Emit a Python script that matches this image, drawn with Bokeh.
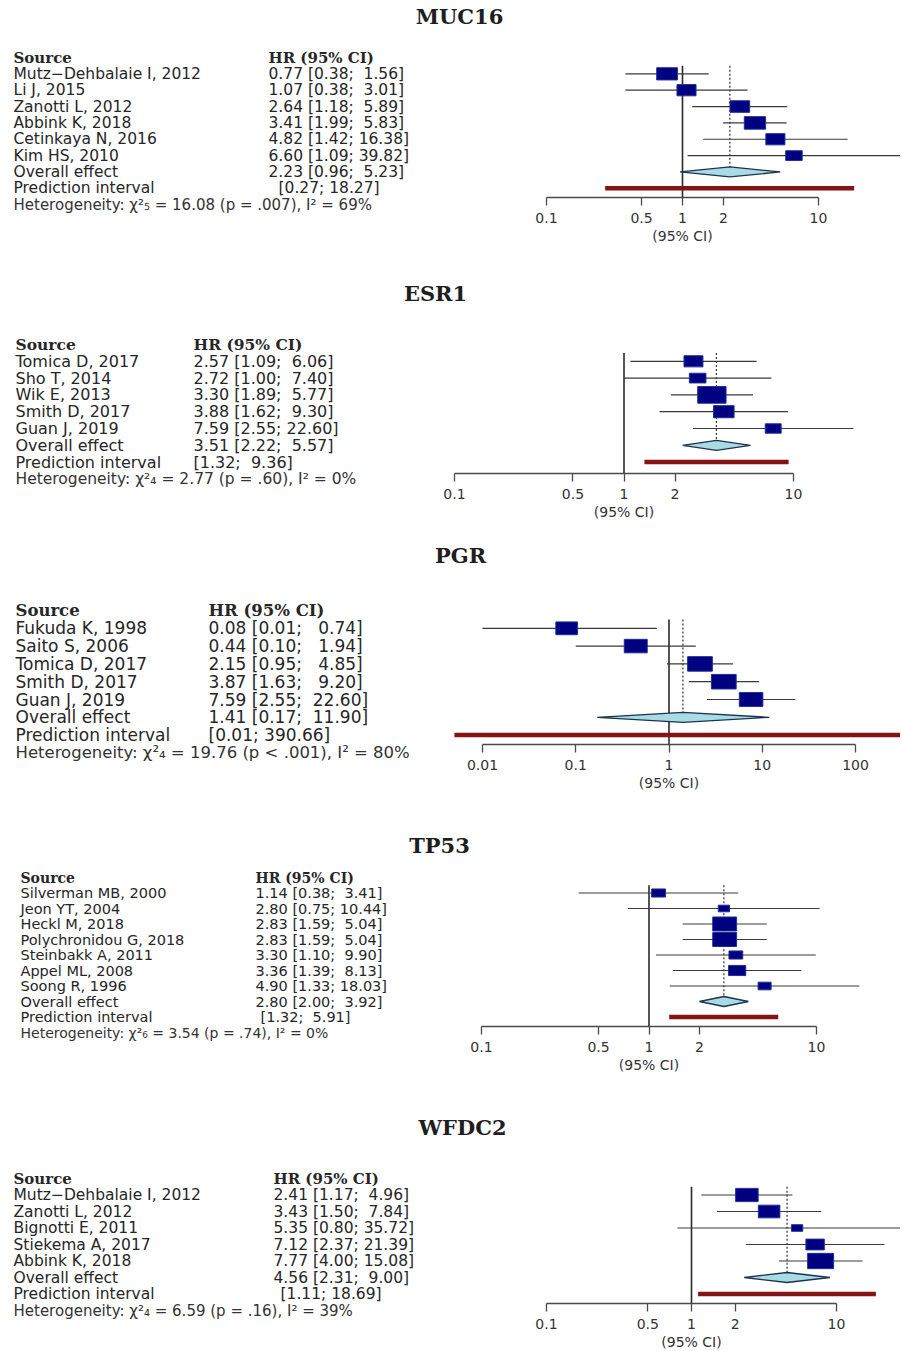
import math
from bokeh.plotting import figure
from bokeh.layouts import column
from bokeh.models import Range1d, LinearScale, FixedTicker, CustomJSTickFormatter, LogAxis
from bokeh.core.properties import value
from bokeh.embed import file_html
from bokeh.resources import INLINE

# ---------------- data ----------------
genes = ["MUC16", "ESR1", "PGR", "TP53", "WFDC2"]

muc16_study = ["Mutz\u2212Dehbalaie I, 2012", "Li J, 2015", "Zanotti L, 2012",
               "Abbink K, 2018", "Cetinkaya N, 2016", "Kim HS, 2010"]
muc16_hr = [0.77, 1.07, 2.64, 3.41, 4.82, 6.60]
muc16_lo = [0.38, 0.38, 1.18, 1.99, 1.42, 1.09]
muc16_hi = [1.56, 3.01, 5.89, 5.83, 16.38, 39.82]
muc16_weight = [19, 16, 17, 20, 16, 12]

esr1_study = ["Tomica D, 2017", "Sho T, 2014", "Wik E, 2013", "Smith D, 2017", "Guan J, 2019"]
esr1_hr = [2.57, 2.72, 3.30, 3.88, 7.59]
esr1_lo = [1.09, 1.00, 1.89, 1.62, 2.55]
esr1_hi = [6.06, 7.40, 5.77, 9.30, 22.60]
esr1_weight = [17, 13, 38, 20, 12]

pgr_study = ["Fukuda K, 1998", "Saito S, 2006", "Tomica D, 2017", "Smith D, 2017", "Guan J, 2019"]
pgr_hr = [0.08, 0.44, 2.15, 3.87, 7.59]
pgr_lo = [0.01, 0.10, 0.95, 1.63, 2.55]
pgr_hi = [0.74, 1.94, 4.85, 9.20, 22.60]
pgr_weight = [17, 19, 22, 22, 20]

tp53_study = ["Silverman MB, 2000", "Jeon YT, 2004", "Heckl M, 2018", "Polychronidou G, 2018",
              "Steinbakk A, 2011", "Appel ML, 2008", "Soong R, 1996"]
tp53_hr = [1.14, 2.80, 2.83, 2.83, 3.30, 3.36, 4.90]
tp53_lo = [0.38, 0.75, 1.59, 1.59, 1.10, 1.39, 1.33]
tp53_hi = [3.41, 10.44, 5.04, 5.04, 9.90, 8.13, 18.03]
tp53_weight = [9, 6, 27, 27, 9, 14, 8]

wfdc2_study = ["Mutz\u2212Dehbalaie I, 2012", "Zanotti L, 2012", "Bignotti E, 2011",
               "Stiekema A, 2017", "Abbink K, 2018"]
wfdc2_hr = [2.41, 3.43, 5.35, 7.12, 7.77]
wfdc2_lo = [1.17, 1.50, 0.80, 2.37, 4.00]
wfdc2_hi = [4.96, 7.84, 35.72, 21.39, 15.08]
wfdc2_weight = [24, 22, 6, 16, 32]

# overall effect: HR, lower, upper
overall_hr = [2.23, 3.51, 1.41, 2.80, 4.56]
overall_lo = [0.96, 2.22, 0.17, 2.00, 2.31]
overall_hi = [5.23, 5.57, 11.90, 3.92, 9.00]
# prediction interval
pred_lo = [0.27, 1.32, 0.005, 1.32, 1.11]
pred_hi = [18.27, 9.36, 390.66, 5.91, 18.69]
# heterogeneity
het_q = [16.08, 2.77, 19.76, 3.54, 6.59]
het_df = [5, 4, 4, 6, 4]
het_p_op = ["=", "=", "<", "=", "="]
het_p = [".007", ".60", ".001", ".74", ".16"]
het_i2 = [69, 0, 80, 0, 39]

axis_ticks = [[0.1, 0.5, 1, 2, 10], [0.1, 0.5, 1, 2, 10], [0.01, 0.1, 1, 10, 100],
              [0.1, 0.5, 1, 2, 10], [0.1, 0.5, 1, 2, 10]]

studies = [muc16_study, esr1_study, pgr_study, tp53_study, wfdc2_study]
hrs = [muc16_hr, esr1_hr, pgr_hr, tp53_hr, wfdc2_hr]
los = [muc16_lo, esr1_lo, pgr_lo, tp53_lo, wfdc2_lo]
his = [muc16_hi, esr1_hi, pgr_hi, tp53_hi, wfdc2_hi]
weights = [muc16_weight, esr1_weight, pgr_weight, tp53_weight, wfdc2_weight]

# ---------------- layout (page pixel positions) ----------------
W = 900
layouts = [
    dict(top=0, h=258, title_x=459, title_y=16, head_y=57, dy=16.35, axis_y=197,
         A=682, B=136, name_x=13, hr_x=268, pi_x=278, fs=15.5, box=2.8),
    dict(top=258, h=270, title_x=435, title_y=293, head_y=344, dy=16.8, axis_y=473,
         A=623.5, B=169.5, name_x=15, hr_x=193, pi_x=193, fs=16, box=2.7),
    dict(top=528, h=287, title_x=460, title_y=555, head_y=610, dy=17.8, axis_y=744,
         A=668.5, B=93.25, name_x=15, hr_x=208, pi_x=208, fs=17, box=3.1),
    dict(top=815, h=270, title_x=439, title_y=845, head_y=877, dy=15.5, axis_y=1026,
         A=648.5, B=167.5, name_x=20, hr_x=255, pi_x=260, fs=14.5, box=2.7),
    dict(top=1085, h=264, title_x=462, title_y=1127, head_y=1178, dy=16.5, axis_y=1303,
         A=691, B=145, name_x=13, hr_x=273, pi_x=280, fs=15.5, box=2.7),
]

TEXT_COL = "#262626"
SUB = str.maketrans("0123456789", "\u2080\u2081\u2082\u2083\u2084\u2085\u2086\u2087\u2088\u2089")
NB = "\u00a0"


def fmt_hi(v, w):
    s = f"{v:.2f}"
    return NB * (w - len(s)) + s


def make_panel(k):
    L = layouts[k]
    names, hr, lo, hi, w = studies[k], hrs[k], los[k], his[k], weights[k]
    n = len(names)
    top, h, axis_y = L["top"], L["h"], L["axis_y"]
    A, B = L["A"], L["B"]
    x0 = 10 ** ((0 - A) / B)
    x1 = 10 ** ((W - A) / B)
    p = figure(width=W, height=h, x_axis_type="log", x_range=Range1d(x0, x1),
               y_range=Range1d(top + h, top), output_backend="svg", toolbar_location=None,
               x_axis_location=None, y_axis_location=None, min_border=0,
               outline_line_color=None, background_fill_color="white",
               border_fill_color="white")
    p.extra_x_ranges = {"px": Range1d(0, W)}
    p.extra_x_scales = {"px": LinearScale()}
    p.grid.visible = False

    ticks = axis_ticks[k]
    ax = LogAxis(fixed_location=axis_y, bounds=(min(ticks), max(ticks)),
                 ticker=FixedTicker(ticks=ticks),
                 formatter=CustomJSTickFormatter(code="return tick.toString()"),
                 axis_label="(95% CI)")
    ax.major_tick_in = 0
    ax.major_tick_out = 8
    ax.minor_tick_in = 0
    ax.minor_tick_out = 0
    ax.axis_line_color = "#4a4a4a"
    ax.axis_line_width = 1.3
    ax.major_tick_line_color = "#4a4a4a"
    ax.major_tick_line_width = 1.3
    ax.major_label_text_font = "DejaVu Sans"
    ax.major_label_text_font_size = "14px"
    ax.major_label_text_color = "#333333"
    ax.major_label_standoff = 7
    ax.axis_label_text_font = "DejaVu Sans"
    ax.axis_label_text_font_size = "14px"
    ax.axis_label_text_font_style = "normal"
    ax.axis_label_text_color = "#333333"
    ax.axis_label_standoff = 2
    p.add_layout(ax, "below")

    head_y, dy = L["head_y"], L["dy"]
    ys = [head_y + (i + 1) * dy for i in range(n)]
    oy = head_y + (n + 1) * dy
    py = head_y + (n + 2) * dy
    hy = head_y + (n + 3) * dy
    line_top = head_y + 0.5 * dy

    # reference line at 1
    p.segment(x0=[1], x1=[1], y0=[line_top], y1=[axis_y], line_color="#2a2a2a", line_width=1.6)
    # overall effect dotted line
    p.segment(x0=[overall_hr[k]], x1=[overall_hr[k]], y0=[line_top], y1=[oy],
              line_color="#333333", line_width=1.2, line_dash="2 2")
    # CIs
    p.segment(x0=lo, x1=hi, y0=ys, y1=ys, line_color="#3a3a3a", line_width=1.2)
    # boxes (size from weight)
    bh = [L["box"] * math.sqrt(v) for v in w]
    bw = [1.7 * v for v in bh]
    p.rect(x=hr, y=ys, width=bw, height=bh, width_units="screen", height_units="screen",
           fill_color="#000080", line_color="#1d2f96", line_width=1)
    # diamond
    p.patch(x=[overall_lo[k], overall_hr[k], overall_hi[k], overall_hr[k]],
            y=[oy, oy - 5, oy, oy + 5], fill_color="#a8dbe4", line_color="#1c3350",
            line_width=1.3)
    # prediction interval
    p.segment(x0=[pred_lo[k]], x1=[pred_hi[k]], y0=[py], y1=[py], line_color="#861313",
              line_width=4.5)

    # ---- texts ----
    p.text(x=[L["title_x"]], y=[L["title_y"]], text=[genes[k]], x_range_name="px",
           text_font=value("DejaVu Serif"), text_font_style="bold",
           text_font_size=value("21px"), text_align="center", text_baseline="middle",
           text_color="#1e1e1e")
    fs = L["fs"]
    p.text(x=[L["name_x"], L["hr_x"]], y=[head_y, head_y], text=["Source", "HR (95% CI)"],
           x_range_name="px", text_font=value("DejaVu Serif"), text_font_style="bold",
           text_font_size=value(f"{fs - 0.5}px"), text_align="left", text_baseline="middle",
           text_color=TEXT_COL)
    col1 = names + ["Overall effect", "Prediction interval"]
    p.text(x=[L["name_x"]] * len(col1), y=ys + [oy, py], text=col1, x_range_name="px",
           text_font=value("DejaVu Sans"), text_font_size=value(f"{fs}px"),
           text_align="left", text_baseline="middle", text_color=TEXT_COL)
    wpad = max(len(f"{v:.2f}") for v in hi + [overall_hi[k], pred_hi[k]])
    vals = [f"{a:.2f} [{b:.2f}; " + fmt_hi(c, wpad) + "]"
            for a, b, c in zip(hr + [overall_hr[k]], lo + [overall_lo[k]], hi + [overall_hi[k]])]
    p.text(x=[L["hr_x"]] * len(vals), y=ys + [oy], text=vals, x_range_name="px",
           text_font=value("DejaVu Sans"), text_font_size=value(f"{fs}px"),
           text_align="left", text_baseline="middle", text_color=TEXT_COL)
    pi_txt = f"[{pred_lo[k]:.2f}; " + fmt_hi(pred_hi[k], wpad) + "]"
    p.text(x=[L["pi_x"]], y=[py], text=[pi_txt], x_range_name="px",
           text_font=value("DejaVu Sans"), text_font_size=value(f"{fs}px"),
           text_align="left", text_baseline="middle", text_color=TEXT_COL)

    het = (f"Heterogeneity: \u03c7\u00b2{str(het_df[k]).translate(SUB)} = {het_q[k]:.2f} "
           f"(p {het_p_op[k]} {het_p[k]}), I\u00b2 = {het_i2[k]}%")
    p.text(x=[L["name_x"]], y=[hy], text=[het], x_range_name="px",
           text_font=value("DejaVu Sans"), text_font_size=value(f"{fs - 0.5}px"),
           text_align="left", text_baseline="middle", text_color="#333333")
    return p


panels = [make_panel(k) for k in range(5)]
layout = column(*panels, spacing=0)
open("out.html", "w").write(file_html(layout, INLINE))
